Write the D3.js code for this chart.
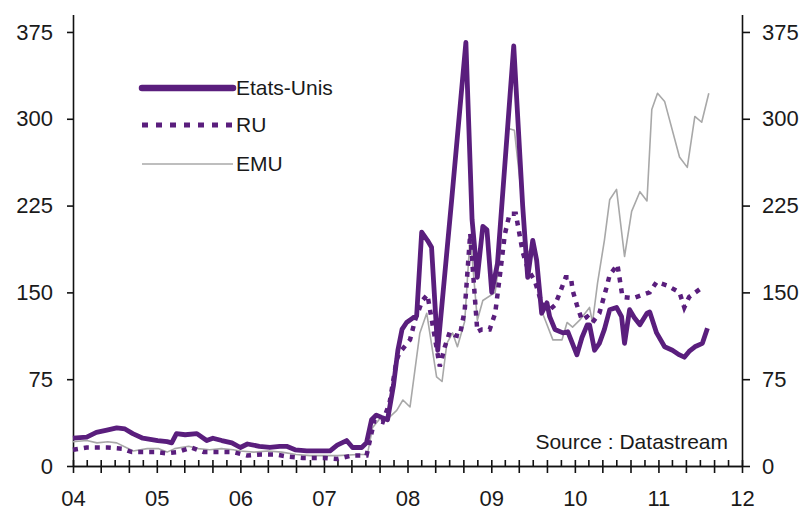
<!DOCTYPE html>
<html><head><meta charset="utf-8">
<script src="https://cdn.jsdelivr.net/npm/d3@7"></script>
<style>
body{margin:0;background:#fff}
text{font-family:"Liberation Sans",Arial,sans-serif;fill:#1a1a1a}
</style>
</head><body>
<svg id="c" width="810" height="513"></svg>
<script>
const yTicks=[0,75,150,225,300,375];
const xTickLabels=["04","05","06","07","08","09","10","11","12"];
const seriesNames=["Etats-Unis","RU","EMU"];
const sourceText="Source : Datastream";

const usDates=["2004-01-01","2004-03-01","2004-04-12","2004-05-28","2004-07-10","2004-08-15","2004-09-18","2004-11-01","2005-01-05","2005-02-15","2005-03-07","2005-03-28","2005-05-05","2005-06-25","2005-08-07","2005-09-03","2005-10-12","2005-11-25","2006-01-01","2006-02-01","2006-03-25","2006-05-10","2006-06-22","2006-07-22","2006-08-28","2006-10-18","2006-12-01","2007-01-28","2007-02-28","2007-04-10","2007-05-06","2007-06-15","2007-07-06","2007-07-28","2007-08-18","2007-09-10","2007-10-06","2007-11-01","2007-11-20","2007-12-08","2007-12-28","2008-01-25","2008-02-10","2008-03-03","2008-03-28","2008-04-15","2008-05-12","2008-07-12","2008-09-12","2008-10-09","2008-11-01","2008-11-25","2008-12-13","2009-01-03","2009-01-28","2009-04-09","2009-05-18","2009-06-09","2009-07-01","2009-07-18","2009-08-09","2009-09-01","2009-09-13","2009-10-06","2009-11-10","2009-12-01","2010-01-10","2010-02-01","2010-02-24","2010-03-06","2010-03-28","2010-04-18","2010-05-10","2010-06-02","2010-07-02","2010-07-24","2010-08-06","2010-08-28","2010-09-18","2010-10-12","2010-11-12","2010-11-24","2010-12-24","2011-01-28","2011-03-03","2011-04-03","2011-04-24","2011-05-15","2011-06-09","2011-07-12","2011-08-03"];
const usValues=[24,25,29,31,33,32,28,24,22,21,20,28,27,28,22,24,22,20,16,19,17,16,17,17,14,13,13,13,18,22,16,16,20,40,44,42,40,70,100,118,124,128,130,202,195,189,100,230,366,213,163,207,204,150,175,363,225,163,195,178,132,141,129,118,115,116,96,111,122,122,100,106,118,135,137,129,106,135,128,122,132,133,115,103,100,96,94,99,103,106,119];

const ruDates=["2004-01-01","2004-03-01","2004-06-01","2004-08-01","2004-09-15","2005-01-01","2005-02-10","2005-04-01","2005-06-01","2005-07-25","2005-12-01","2006-02-01","2006-04-01","2006-06-01","2006-08-01","2006-10-01","2007-01-01","2007-03-01","2007-05-01","2007-07-06","2007-08-10","2007-09-15","2007-10-15","2007-11-15","2007-11-28","2008-01-12","2008-02-03","2008-03-06","2008-03-28","2008-05-21","2008-06-12","2008-07-04","2008-07-25","2008-08-16","2008-09-07","2008-10-01","2008-11-01","2008-11-21","2008-12-25","2009-01-18","2009-02-09","2009-03-01","2009-03-22","2009-04-18","2009-05-18","2009-06-10","2009-07-10","2009-08-10","2009-09-13","2009-10-06","2009-10-28","2009-11-22","2009-12-15","2009-12-22","2010-01-10","2010-02-01","2010-02-24","2010-03-19","2010-04-18","2010-05-19","2010-06-02","2010-07-06","2010-07-28","2010-09-12","2010-11-24","2010-12-24","2011-02-07","2011-04-03","2011-04-24","2011-05-15","2011-07-09"];
const ruValues=[14,16,16,15,12,12,11,12,16,12,12,9,10,10,8,7,7,6,9,9,40,38,55,92,98,109,126,143,148,86,103,116,113,112,135,201,116,118,118,132,167,200,218,218,185,170,160,140,135,139,150,163,163,152,139,126,129,124,132,154,165,174,146,145,150,159,156,150,137,146,154];

const emuDates=["2004-01-01","2004-03-01","2004-04-15","2004-06-01","2004-07-10","2004-08-20","2004-09-20","2004-11-20","2005-01-10","2005-02-15","2005-03-20","2005-05-20","2005-07-01","2005-08-20","2005-10-10","2005-12-01","2006-01-01","2006-03-01","2006-05-01","2006-07-01","2006-09-01","2006-11-01","2007-01-01","2007-03-01","2007-06-01","2007-07-10","2007-08-01","2007-09-03","2007-10-03","2007-11-15","2007-12-12","2008-01-12","2008-02-24","2008-03-25","2008-05-07","2008-05-31","2008-06-21","2008-07-16","2008-08-06","2008-09-07","2008-10-01","2008-11-01","2008-11-25","2009-01-18","2009-02-09","2009-03-09","2009-04-12","2009-05-04","2009-05-28","2009-06-09","2009-07-01","2009-07-22","2009-08-13","2009-09-27","2009-11-06","2009-11-28","2009-12-22","2010-01-22","2010-03-06","2010-03-19","2010-04-10","2010-05-10","2010-06-02","2010-07-02","2010-08-06","2010-09-06","2010-10-12","2010-11-12","2010-12-03","2010-12-28","2011-01-28","2011-04-03","2011-05-07","2011-06-09","2011-07-09","2011-08-09"];
const emuValues=[21,22,20,21,20,16,13,15,15,12,15,17,15,14,15,14,13,12,13,12,10,9,9,9,10,10,33,41,40,48,57,51,115,132,77,73,106,115,103,125,200,126,143,150,185,292,290,250,204,184,189,169,132,109,109,124,120,126,137,124,158,195,230,239,181,220,237,229,308,322,315,267,258,302,297,322];

const purple="#5a1e7d", grey="#a8a8a8";
const svg=d3.select("#c");
const parse=d3.utcParse("%Y-%m-%d");
const x=d3.scaleUtc().domain([parse("2004-01-01"),parse("2012-01-01")]).range([73,742]);
const y=d3.scaleLinear().domain([0,390]).range([466,14.6]);
const FS=22;

// axes
const gL=svg.append("g").attr("transform",`translate(${x.range()[0]},0)`)
  .call(d3.axisLeft(y).tickValues(yTicks).tickSize(6).tickSizeOuter(0).tickPadding(14));
const gR=svg.append("g").attr("transform",`translate(${x.range()[1]},0)`)
  .call(d3.axisRight(y).tickValues(yTicks).tickSize(8).tickSizeOuter(0).tickPadding(12));
const gB1=svg.append("g").attr("transform",`translate(0,${y(0)})`)
  .call(d3.axisBottom(x).ticks(d3.utcMonth.every(2)).tickSize(-6).tickSizeOuter(0).tickFormat(""));
const gB2=svg.append("g").attr("transform",`translate(0,${y(0)})`)
  .call(d3.axisBottom(x).ticks(d3.utcMonth.every(4)).tickSize(7).tickSizeOuter(0).tickFormat(""));
const yearDates=xTickLabels.map(s=>parse("20"+s+"-01-01"));
const gB3=svg.append("g").attr("transform",`translate(0,${y(0)})`)
  .call(d3.axisBottom(x).tickValues(yearDates).tickSize(0).tickPadding(24).tickFormat((d,i)=>xTickLabels[i]));
gB3.select(".domain").remove();
[gL,gR,gB1,gB2,gB3].forEach(g=>{
  g.selectAll("path.domain,line").attr("stroke","#111").attr("stroke-width",1.6);
  g.selectAll("text").attr("font-size",FS).attr("fill","#1a1a1a").style("font-family",'"Liberation Sans",Arial,sans-serif');
});

// lines
const line=d3.line().x(d=>x(d[0])).y(d=>y(d[1]));
const mk=(dates,vals)=>dates.map((d,i)=>[parse(d),vals[i]]);
svg.append("path").datum(mk(emuDates,emuValues)).attr("d",line)
  .attr("fill","none").attr("stroke",grey).attr("stroke-width",1.6).attr("stroke-linejoin","round");
svg.append("path").datum(mk(ruDates,ruValues)).attr("d",line)
  .attr("fill","none").attr("stroke",purple).attr("stroke-width",4.5).attr("stroke-dasharray","5,6");
svg.append("path").datum(mk(usDates,usValues)).attr("d",line)
  .attr("fill","none").attr("stroke",purple).attr("stroke-width",4.8).attr("stroke-linejoin","round");

// legend
const legY=[88,125,164];
const styles=[
  {w:6.5,c:purple,dash:null,cap:"round"},
  {w:5,c:purple,dash:"6,8",cap:"butt"},
  {w:1.6,c:grey,dash:null,cap:"butt"}];
seriesNames.forEach((n,i)=>{
  const s=styles[i];
  svg.append("line").attr("x1",142).attr("x2",233).attr("y1",legY[i]).attr("y2",legY[i])
    .attr("stroke",s.c).attr("stroke-width",s.w).attr("stroke-linecap",s.cap)
    .attr("stroke-dasharray",s.dash);
  svg.append("text").attr("x",236).attr("y",legY[i]+7).attr("font-size",FS-1).text(n);
});

svg.append("text").attr("x",728).attr("y",449).attr("text-anchor","end").attr("font-size",FS-1).text(sourceText);
</script>
</body></html>
